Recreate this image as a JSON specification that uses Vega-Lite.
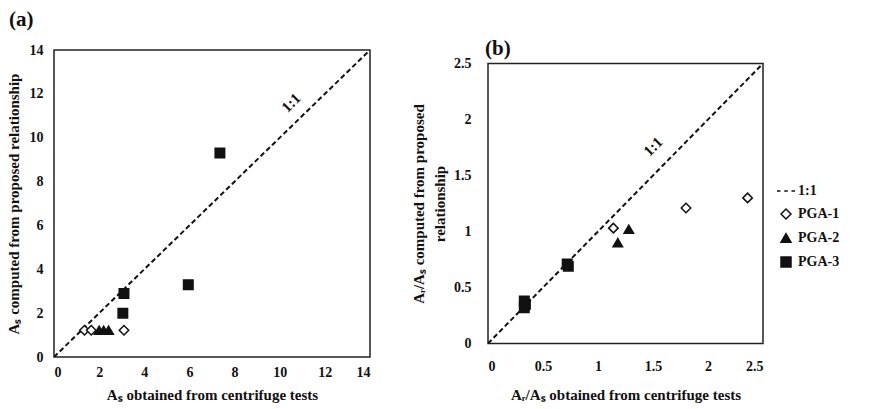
{
  "$schema": "https://vega.github.io/schema/vega-lite/v6.json",
  "background": "white",
  "padding": {"left": 5, "top": 8, "right": 0, "bottom": 0},
  "config": {
    "font": "Liberation Serif",
    "view": {"stroke": "#222", "strokeWidth": 1.5},
    "axis": {"grid": false, "ticks": false, "domain": false, "labelOverlap": false, "labelFont": "Liberation Serif", "labelFontSize": 14, "labelFontWeight": "bold", "labelColor": "#111", "titleFont": "Liberation Serif", "titleFontSize": 15, "titleFontWeight": "bold", "titleColor": "#111", "labelPadding": 11, "titlePadding": 8},
    "axisX": {"labelPadding": 8, "titlePadding": 8},
    "legend": {"labelFont": "Liberation Serif", "labelFontSize": 14, "labelFontWeight": "bold", "labelColor": "#111", "symbolStrokeWidth": 1.5, "symbolSize": 100, "rowPadding": 8, "labelOffset": 5},
    "title": {"font": "Liberation Serif", "fontSize": 21, "fontWeight": "bold", "color": "#111", "anchor": "start", "frame": "group"}
  },
  "datasets": {
    "a": [
      {"x": 7.35, "y": 9.3, "series": "PGA-3"},
      {"x": 5.95, "y": 3.3, "series": "PGA-3"},
      {"x": 3.1, "y": 2.9, "series": "PGA-3"},
      {"x": 3.05, "y": 2.0, "series": "PGA-3"},
      {"x": 1.35, "y": 1.22, "series": "PGA-1"},
      {"x": 1.65, "y": 1.22, "series": "PGA-1"},
      {"x": 3.1, "y": 1.22, "series": "PGA-1"},
      {"x": 2.0, "y": 1.22, "series": "PGA-2"},
      {"x": 2.2, "y": 1.22, "series": "PGA-2"},
      {"x": 2.42, "y": 1.22, "series": "PGA-2"}
    ],
    "b": [
      {"x": 1.14, "y": 1.03, "series": "PGA-1"},
      {"x": 1.8, "y": 1.21, "series": "PGA-1"},
      {"x": 2.36, "y": 1.3, "series": "PGA-1"},
      {"x": 1.18, "y": 0.9, "series": "PGA-2"},
      {"x": 1.28, "y": 1.02, "series": "PGA-2"},
      {"x": 0.72, "y": 0.71, "series": "PGA-3"},
      {"x": 0.73, "y": 0.69, "series": "PGA-3"},
      {"x": 0.33, "y": 0.38, "series": "PGA-3"},
      {"x": 0.33, "y": 0.32, "series": "PGA-3"},
      {"x": 0.34, "y": 0.35, "series": "PGA-3"}
    ],
    "diagA": [{"x": 0, "y": 0}, {"x": 14, "y": 14}],
    "diagB": [{"x": 0, "y": 0}, {"x": 2.5, "y": 2.5}],
    "labA": [{"x": 10.5, "y": 11.6, "t": "1:1"}],
    "labB": [{"x": 1.5, "y": 1.76, "t": "1:1"}]
  },
  "bounds": "flush",
  "center": true,
  "spacing": 118,
  "hconcat": [
    {
      "width": 316,
      "height": 307,
      "title": {"text": "(a)", "dx": -45, "offset": 13},
      "layer": [
        {
          "data": {"name": "diagA"},
          "mark": {"type": "line", "color": "#111", "strokeDash": [5, 3], "strokeWidth": 2, "clip": true},
          "encoding": {
            "x": {"field": "x", "type": "quantitative", "scale": {"domain": [0, 14], "nice": false}, "axis": {"values": [0, 2, 4, 6, 8, 10, 12, 14], "title": "Aₛ obtained from centrifuge tests"}},
            "y": {"field": "y", "type": "quantitative", "scale": {"domain": [0, 14], "nice": false}, "axis": {"values": [0, 2, 4, 6, 8, 10, 12, 14], "title": "Aₛ computed from proposed relationship"}}
          }
        },
        {
          "data": {"name": "labA"},
          "mark": {"type": "text", "angle": 315, "fontSize": 15, "fontWeight": "bold", "font": "Liberation Serif", "color": "#111"},
          "encoding": {
            "x": {"field": "x", "type": "quantitative"},
            "y": {"field": "y", "type": "quantitative"},
            "text": {"field": "t"}
          }
        },
        {
          "data": {"name": "a"},
          "mark": {"type": "point", "strokeWidth": 1.5, "opacity": 1, "size": 90},
          "encoding": {
            "x": {"field": "x", "type": "quantitative"},
            "y": {"field": "y", "type": "quantitative"},
            "shape": {"field": "series", "type": "nominal", "scale": {"domain": ["1:1", "PGA-1", "PGA-2", "PGA-3"], "range": ["M-1.8,0H-1.1M-0.35,0H0.35M1.1,0H1.8", "diamond", "triangle-up", "square"]}, "legend": {"title": null, "orient": "none", "legendX": 725, "legendY": 134}},
            "fill": {"field": "series", "type": "nominal", "scale": {"domain": ["1:1", "PGA-1", "PGA-2", "PGA-3"], "range": ["transparent", "white", "#111", "#111"]}, "legend": {"title": null, "orient": "none", "legendX": 725, "legendY": 134}},
            "stroke": {"field": "series", "type": "nominal", "scale": {"domain": ["1:1", "PGA-1", "PGA-2", "PGA-3"], "range": ["#111", "#111", "#111", "#111"]}, "legend": {"title": null, "orient": "none", "legendX": 725, "legendY": 134}}
          }
        }
      ]
    },
    {
      "width": 275,
      "height": 280,
      "title": {"text": "(b)", "dx": -3, "offset": -2},
      "layer": [
        {
          "data": {"name": "diagB"},
          "mark": {"type": "line", "color": "#111", "strokeDash": [5, 3], "strokeWidth": 2, "clip": true},
          "encoding": {
            "x": {"field": "x", "type": "quantitative", "scale": {"domain": [0, 2.5], "nice": false}, "axis": {"values": [0, 0.5, 1, 1.5, 2, 2.5], "format": ".1~f", "labelPadding": 16, "titlePadding": 14, "title": "Aᵣ/Aₛ obtained from centrifuge tests"}},
            "y": {"field": "y", "type": "quantitative", "scale": {"domain": [0, 2.5], "nice": false}, "axis": {"values": [0, 0.5, 1, 1.5, 2, 2.5], "format": ".1~f", "labelPadding": 17, "titlePadding": 6, "titleLineHeight": 21, "title": ["Aᵣ/Aₛ computed from proposed", "relationship"]}}
          }
        },
        {
          "data": {"name": "labB"},
          "mark": {"type": "text", "angle": 315, "fontSize": 15, "fontWeight": "bold", "font": "Liberation Serif", "color": "#111"},
          "encoding": {
            "x": {"field": "x", "type": "quantitative"},
            "y": {"field": "y", "type": "quantitative"},
            "text": {"field": "t"}
          }
        },
        {
          "data": {"name": "b"},
          "mark": {"type": "point", "strokeWidth": 1.5, "opacity": 1, "size": 90},
          "encoding": {
            "x": {"field": "x", "type": "quantitative"},
            "y": {"field": "y", "type": "quantitative"},
            "shape": {"field": "series", "type": "nominal"},
            "fill": {"field": "series", "type": "nominal"},
            "stroke": {"field": "series", "type": "nominal"}
          }
        }
      ]
    }
  ]
}
